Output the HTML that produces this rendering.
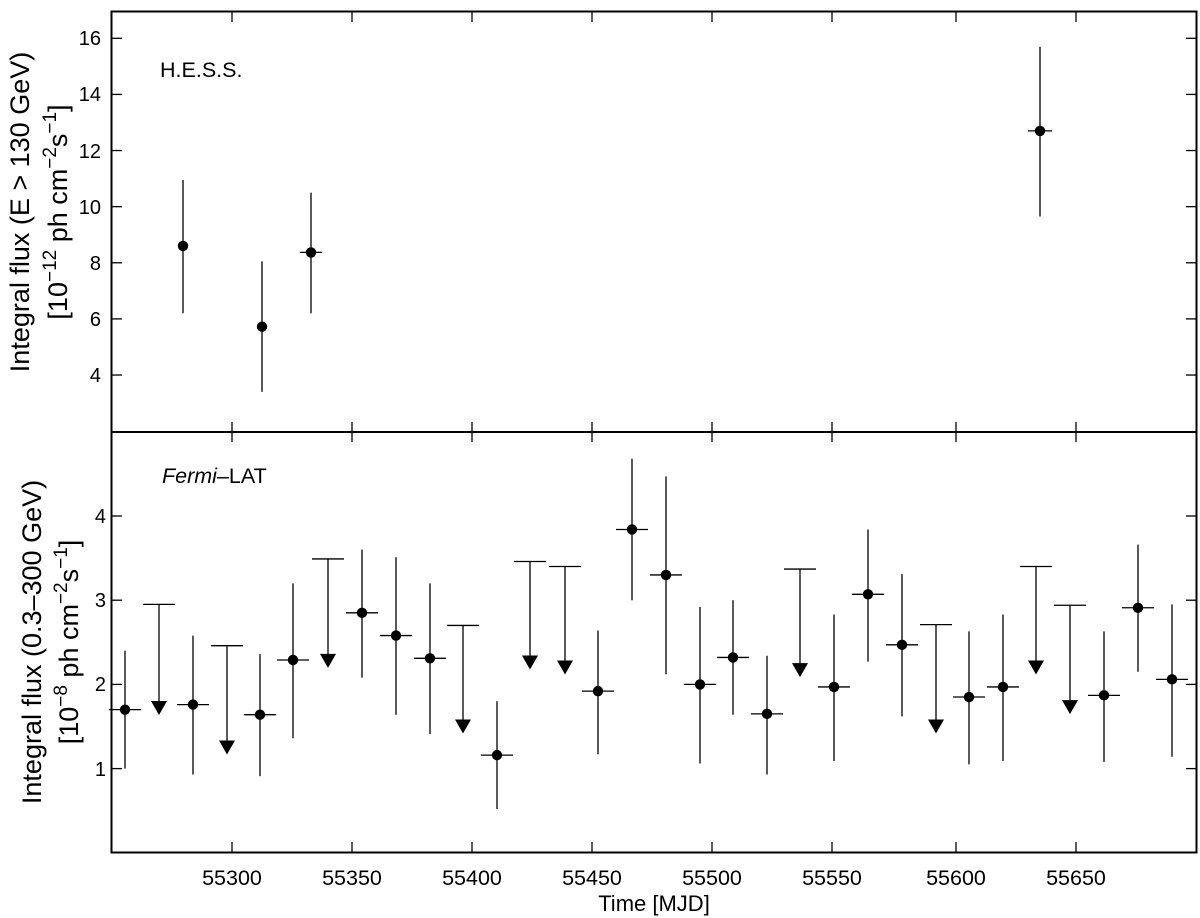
<!DOCTYPE html>
<html><head><meta charset="utf-8"><style>
html,body{margin:0;padding:0;background:#fff}
svg{display:block;font-family:"Liberation Sans",sans-serif}
</style></head><body>
<svg id="s" width="1200" height="918" viewBox="0 0 1200 918" xmlns="http://www.w3.org/2000/svg">
<rect x="0" y="0" width="1200" height="918" fill="#fff"/>
<g id="g" stroke="#000" fill="none" stroke-width="1.3"></g>
<rect x="111.5" y="11.5" width="1085" height="841" fill="none" stroke="#000" stroke-width="2"/>
<line x1="111.5" y1="432" x2="1196.5" y2="432" stroke="#000" stroke-width="2"/>
<g font-size="20" fill="#000" text-anchor="end">
<text x="101" y="45">16</text><text x="101" y="101">14</text><text x="101" y="158">12</text>
<text x="101" y="214">10</text><text x="101" y="270">8</text><text x="101" y="326">6</text><text x="101" y="382">4</text>
<text x="106" y="523">4</text><text x="106" y="607">3</text><text x="106" y="691">2</text><text x="106" y="776">1</text>
</g>
<g font-size="21.5" fill="#000" text-anchor="middle">
<text x="232" y="885">55300</text><text x="352" y="885">55350</text><text x="472" y="885">55400</text>
<text x="592" y="885">55450</text><text x="712" y="885">55500</text><text x="832" y="885">55550</text>
<text x="956" y="885">55600</text><text x="1076" y="885">55650</text>
<text x="654" y="911" font-size="22">Time [MJD]</text>
</g>
<text x="160" y="77" font-size="21.5">H.E.S.S.</text>
<text x="162" y="483" font-size="21.5"><tspan font-style="italic">Fermi</tspan>–LAT</text>
<g font-size="27" fill="#000" text-anchor="middle">
<text transform="translate(29,212) rotate(-90)">Integral flux (E &gt; 130 GeV)</text>
<text transform="translate(67,212) rotate(-90)">[10<tspan font-size="19" dy="-11">−12</tspan><tspan dy="11"> ph cm</tspan><tspan font-size="19" dy="-11">−2</tspan><tspan dy="11">s</tspan><tspan font-size="19" dy="-11">−1</tspan><tspan dy="11">]</tspan></text>
<text transform="translate(41,642) rotate(-90)">Integral flux (0.3–300 GeV)</text>
<text transform="translate(78,642) rotate(-90)">[10<tspan font-size="19" dy="-11">−8</tspan><tspan dy="11"> ph cm</tspan><tspan font-size="19" dy="-11">−2</tspan><tspan dy="11">s</tspan><tspan font-size="19" dy="-11">−1</tspan><tspan dy="11">]</tspan></text>
</g>
</svg>
<script>
var g=document.getElementById('g'),NS="http://www.w3.org/2000/svg";
function L(a,b,c,d){var e=document.createElementNS(NS,'line');e.setAttribute('x1',a);e.setAttribute('y1',b);e.setAttribute('x2',c);e.setAttribute('y2',d);g.appendChild(e);}
function C(x,y){var e=document.createElementNS(NS,'circle');e.setAttribute('cx',x);e.setAttribute('cy',y);e.setAttribute('r',5.2);e.setAttribute('fill','#000');e.setAttribute('stroke','none');g.appendChild(e);}
function T(x,y){var e=document.createElementNS(NS,'polygon');e.setAttribute('points',(x-8)+','+(y-7)+' '+(x+8)+','+(y-7)+' '+x+','+(y+7));e.setAttribute('fill','#000');e.setAttribute('stroke','none');g.appendChild(e);}
var xs=[232,352,472,592,712,832,956,1076];
xs.forEach(function(x){L(x,12,x,22);L(x,422,x,442);L(x,842,x,852);});
function yt(v){return 38.3+(16-v)*28.06;}
function yb(v){return 516+(4-v)*84.2;}
[4,6,8,10,12,14,16].forEach(function(v){var y=yt(v);L(112,y,122,y);L(1186,y,1196,y);});
[1,2,3,4].forEach(function(v){var y=yb(v);L(112,y,122,y);L(1186,y,1196,y);});
[[183,8.6,10.95,6.2,5],[262,5.72,8.05,3.4,0],[311,8.37,10.5,6.2,11],[1040,12.7,15.7,9.65,12]].forEach(function(p){
L(p[0],yt(p[2]),p[0],yt(p[3]));if(p[4])L(p[0]-p[4],yt(p[1]),p[0]+p[4],yt(p[1]));C(p[0],yt(p[1]));});
var pts=[[125,1.70,2.4,1.0],[193,1.76,2.58,0.93],[260,1.64,2.36,0.91],[293,2.29,3.2,1.36],[362,2.85,3.6,2.08],[396,2.58,3.51,1.64],[430,2.31,3.2,1.41],[497,1.16,1.8,0.52],[598,1.92,2.64,1.17],[632,3.84,4.68,3.0],[666,3.30,4.47,2.12],[700,2.00,2.92,1.06],[733,2.32,3.0,1.64],[767,1.65,2.34,0.93],[834,1.97,2.83,1.09],[868,3.07,3.84,2.27],[902,2.47,3.31,1.62],[969,1.85,2.63,1.05],[1003,1.97,2.83,1.09],[1104,1.87,2.63,1.08],[1138,2.91,3.66,2.15],[1172,2.06,2.95,1.14]];
pts.forEach(function(p){L(p[0],yb(p[2]),p[0],yb(p[3]));L(p[0]-16,yb(p[1]),p[0]+16,yb(p[1]));C(p[0],yb(p[1]));});
var ul=[[159,2.95,1.72],[227,2.46,1.25],[328,3.49,2.28],[463,2.70,1.5],[530,3.46,2.26],[565,3.40,2.2],[800,3.37,2.17],[936,2.71,1.5],[1036,3.40,2.2],[1070,2.94,1.73]];
ul.forEach(function(p){L(p[0]-16,yb(p[1]),p[0]+16,yb(p[1]));L(p[0],yb(p[1]),p[0],yb(p[2]));T(p[0],yb(p[2]));});
</script>
</body></html>
